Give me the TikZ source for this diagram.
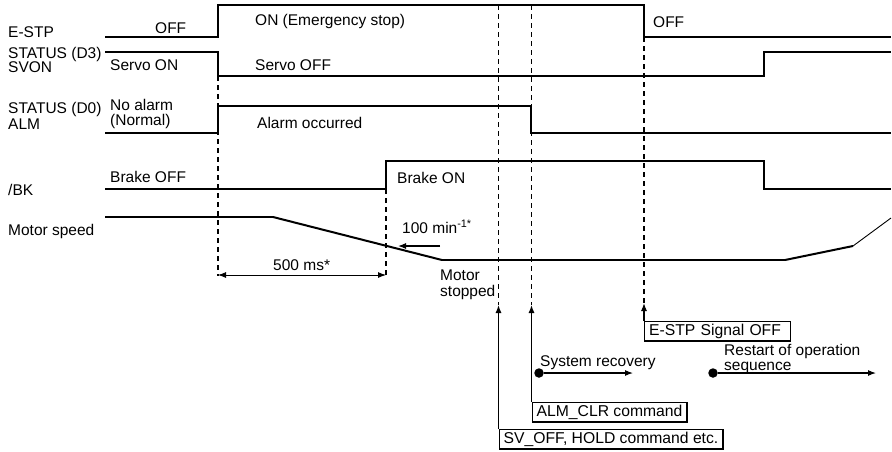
\documentclass[tikz,border=0pt]{standalone}
\usepackage{fontspec}
\setmainfont{Liberation Sans}
\usetikzlibrary{arrows.meta}

\begin{document}
\begin{tikzpicture}[x=1pt, y=-1pt, >={Latex[length=8pt, width=6pt]},
    every node/.style={font=\fontsize{15.5}{17}\selectfont, inner sep=0pt},
    txt/.style={anchor=base west},
    sig/.style={line width=2.8pt},
    guide/.style={line width=1.3pt, dash pattern=on 5pt off 4pt},
    thinarrow/.style={->, line width=1.1pt},
    cmdbox/.style={draw, line width=1.4pt, anchor=north west, inner xsep=4.5pt, inner ysep=2.2pt,
      font=\fontsize{15.7}{16}\selectfont, text height=11.5pt, text depth=3.5pt},
    dot/.style={circle, fill, minimum size=9.5pt}]
  \useasboundingbox (0,0) rectangle (892,451);

  % guide lines
  \draw[guide] (218,76) -- (218,276);
  \draw[guide] (386,189) -- (386,275);
  \draw[guide] (498.5,5) -- (498.5,305);
  \draw[guide] (531.5,5) -- (531.5,305);
  \draw[guide] (644,37) -- (644,303);

  % signals
  \draw[sig] (105,37) -- (218,37) -- (218,5) -- (644,5) -- (644,37) -- (891,37);
  \draw[sig] (105,52) -- (218,52) -- (218,76) -- (764,76) -- (764,52) -- (891,52);
  \draw[sig] (105,133) -- (218,133) -- (218,106) -- (531,106) -- (531,133) -- (891,133);
  \draw[sig] (105,189) -- (386,189) -- (386,161) -- (764,161) -- (764,189) -- (891,189);
  \draw[sig] (105,217) -- (273,217);
  \draw[line width=2pt] (273,217) -- (442,260);
  \draw[sig] (442,260) -- (785,260);
  \draw[line width=2pt] (785,260) -- (853,246);
  \draw[line width=0.9pt] (853,246) -- (891,218);

  % signal names
  \node[txt] (estp) at (8,37) {E-STP};
  \node[txt] (st3) at (8,58) {STATUS (D3)};
  \node[txt] (svon) at (8,72.5) {SVON};
  \node[txt] (st0) at (8,113.5) {STATUS (D0)};
  \node[txt] (alm) at (8,129) {ALM};
  \node[txt] (bk) at (8,195) {/BK};
  \node[txt] (speed) at (8,235) {Motor speed};

  % states
  \node[txt] (off1) at (155,33) {OFF};
  \node[txt] (on1) at (255,25) {ON (Emergency stop)};
  \node[txt] (off2) at (653,27) {OFF};
  \node[txt] (sv1) at (110,70) {Servo ON};
  \node[txt] (sv2) at (255,70) {Servo OFF};
  \node[txt] (noal) at (110,110) {No alarm};
  \node[txt] (norm) at (110,125) {(Normal)};
  \node[txt] (aloc) at (257,128) {Alarm occurred};
  \node[txt] (bkoff) at (110,182) {Brake OFF};
  \node[txt] (bkon) at (397,183) {Brake ON};
  \node[txt] (rpm) at (402,233) {100 min\textsuperscript{-1*}};
  \node[txt] (stop1) at (440,280) {Motor};
  \node[txt] (stop2) at (440,296) {stopped};
  \node[txt] (ms) at (273,270) {500 ms*};

  % timing arrows
  \coordinate (msA) at (218,275);
  \coordinate (msB) at (386,275);
  \draw[<->, line width=0.9pt] (msA) -- (msB);
  \coordinate (rpmA) at (440,246);
  \coordinate (rpmB) at (398,246);
  \draw[thinarrow] (rpmA) -- (rpmB);

  % commands
  \node[cmdbox, text width=137pt, align=left] (sigoff) at (644,321) {E-STP Signal OFF};
  \node[cmdbox] (almclr) at (531.5,402) {ALM\_CLR command};
  \node[cmdbox] (svoff) at (498.5,429) {SV\_OFF, HOLD command etc.};
  \coordinate (sigoffT) at (644,303);
  \coordinate (almclrT) at (531.5,305);
  \coordinate (svoffT) at (498.5,305);
  \draw[thinarrow] (sigoff.north west) -- (sigoffT);
  \draw[thinarrow] (almclr.north west) -- (almclrT);
  \draw[thinarrow] (svoff.north west) -- (svoffT);

  % recovery
  \node[dot] (rec) at (539,373) {};
  \coordinate (recE) at (633,373);
  \draw[thinarrow] (rec) -- (recE);
  \node[txt] (rectxt) at (540,366) {System recovery};
  \node[dot] (rst) at (713,373) {};
  \coordinate (rstE) at (876,373);
  \draw[thinarrow] (rst) -- (rstE);
  \node[txt] (rst1) at (724,355.5) {Restart of operation};
  \node[txt] (rst2) at (724,370) {sequence};
\end{tikzpicture}
\end{document}
